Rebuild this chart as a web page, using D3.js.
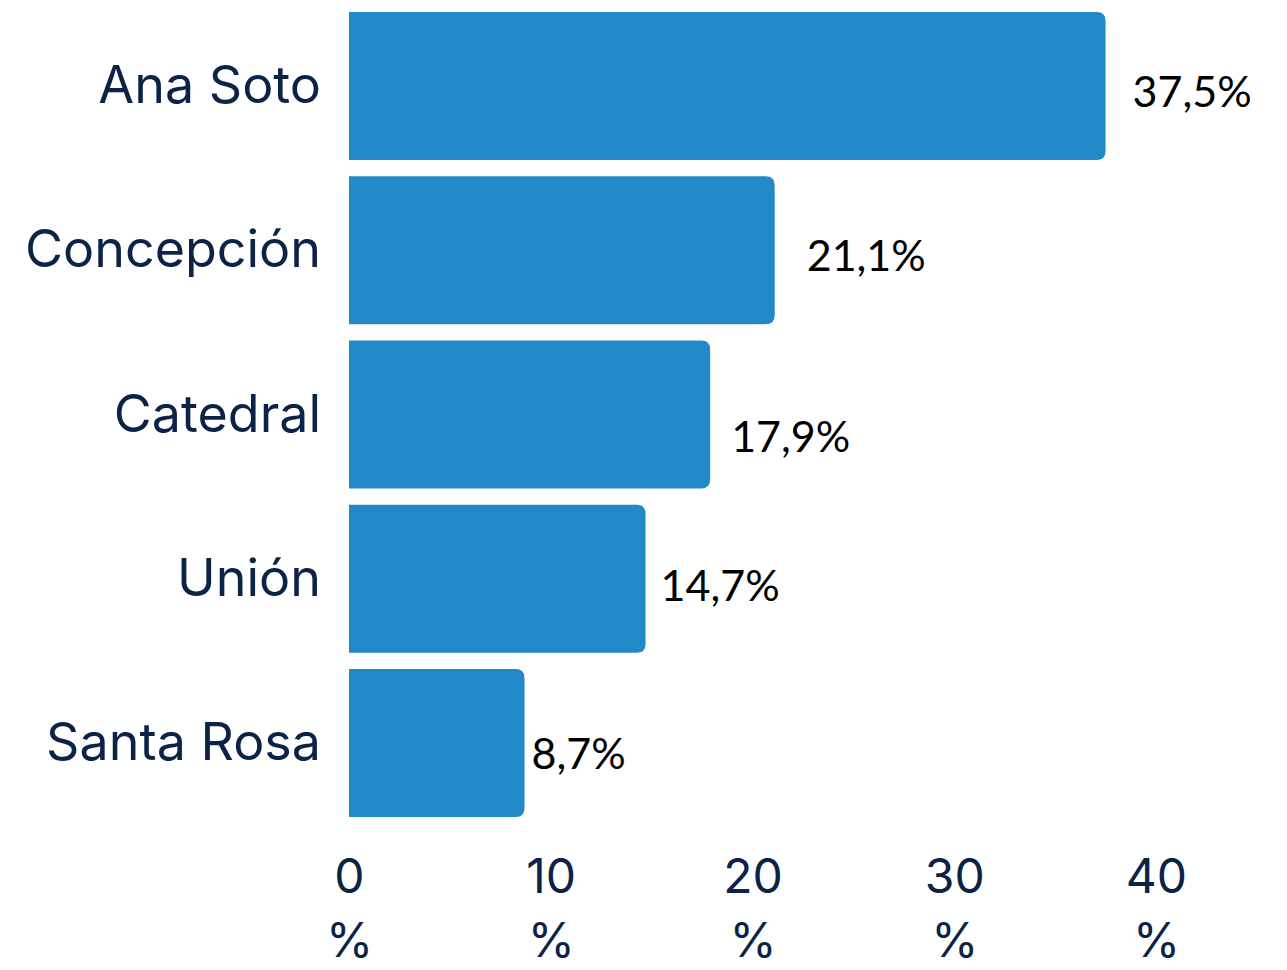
<!DOCTYPE html>
<html>
<head>
<meta charset="utf-8">
<script src="https://cdn.jsdelivr.net/npm/d3@7"></script>
<style>
  html, body { margin: 0; padding: 0; background: #ffffff; }
  svg { display: block; }
</style>
</head>
<body>
<svg id="chart" width="1287" height="970"></svg>
<script>
// Share of responses by parish
const categories = ["Ana Soto", "Concepción", "Catedral", "Unión", "Santa Rosa"];
const values = [37.5, 21.1, 17.9, 14.7, 8.7];
const valueLabels = ["37,5%", "21,1%", "17,9%", "14,7%", "8,7%"];
const tickValues = [0, 10, 20, 30, 40];
// Hand-placed offsets of each value label relative to its bar end / bar centre
const labelNudge = [[27, 21], [32, 21], [21, 37], [15, 22], [7, 26]];

const svg = d3.select("#chart");
const navy = "#0b2347";
const barColor = "#2189c8";

const x = d3.scaleLinear().domain([0, 40]).range([349, 1156]);
const y = d3.scaleBand().domain(categories).range([3.9, 825.1])
  .paddingInner(0.1).paddingOuter(0.05);

// Bar with square left edge and rounded right corners
function barPath(x0, x1, y0, h, r) {
  r = Math.min(r, (x1 - x0) / 2, h / 2);
  return `M${x0},${y0}H${x1 - r}Q${x1},${y0} ${x1},${y0 + r}` +
         `V${y0 + h - r}Q${x1},${y0 + h} ${x1 - r},${y0 + h}H${x0}Z`;
}

const rows = categories.map((c, i) => ({ c, v: values[i], label: valueLabels[i], nudge: labelNudge[i] }));

svg.append("g").selectAll("path")
  .data(rows)
  .join("path")
  .attr("d", d => barPath(x(0), x(d.v), y(d.c), y.bandwidth(), 9))
  .attr("fill", barColor);

// Category labels
svg.append("g").selectAll("text")
  .data(rows)
  .join("text")
  .attr("x", 321)
  .attr("y", d => y(d.c) + y.bandwidth() / 2)
  .attr("dy", "0.33em")
  .attr("text-anchor", "end")
  .attr("font-family", "Inter, 'Open Sans', sans-serif")
  .attr("font-size", 52)
  .attr("fill", navy)
  .text(d => d.c);

// Value labels
svg.append("g").selectAll("text")
  .data(rows)
  .join("text")
  .attr("x", d => x(d.v) + d.nudge[0])
  .attr("y", d => y(d.c) + y.bandwidth() / 2 + d.nudge[1])
  .attr("font-family", "Lato, 'Open Sans', sans-serif")
  .attr("font-size", 43)
  .attr("fill", "#000000")
  .text(d => d.label);

// X axis: tick value with the percent sign wrapped onto a second line
const axis = d3.axisBottom(x).tickValues(tickValues).tickSize(0).tickFormat(d => d);
const gx = svg.append("g").call(axis);
gx.select(".domain").remove();
gx.selectAll(".tick text").remove();
gx.selectAll(".tick").each(function(d) {
  const t = d3.select(this).append("text")
    .attr("text-anchor", "middle")
    .attr("font-family", "Inter, 'Open Sans', sans-serif")
    .attr("font-size", 48)
    .attr("fill", navy);
  t.append("tspan").attr("x", 0).attr("y", 893).text(d);
  t.append("tspan").attr("x", 0).attr("y", 957).text("%");
});
</script>
</body>
</html>
